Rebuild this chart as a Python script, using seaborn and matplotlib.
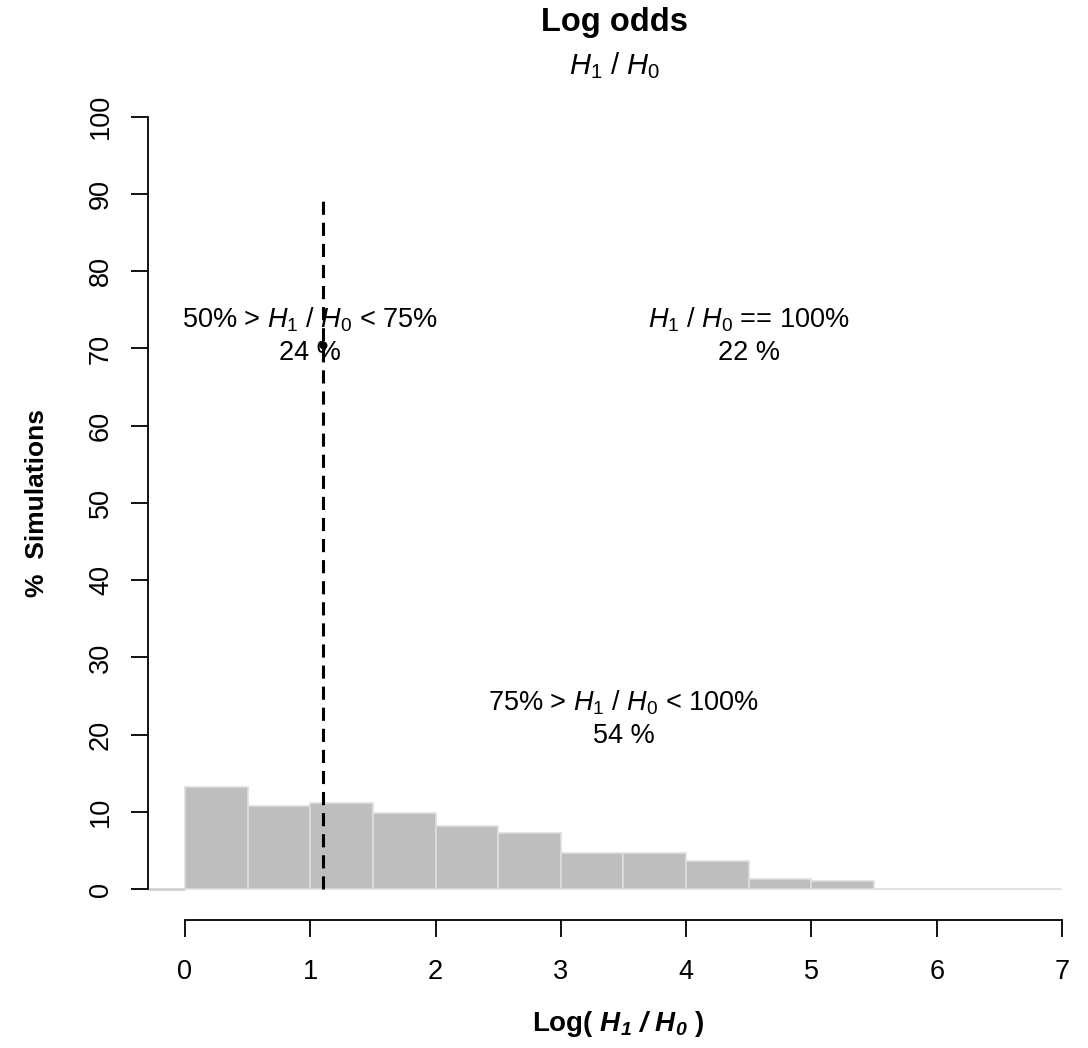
import numpy as np
import matplotlib
matplotlib.use("Agg")
import matplotlib.pyplot as plt
import seaborn as sns

# histogram of log odds (percent of simulations per 0.5-wide bin)
bin_edges = [0, 0.5, 1, 1.5, 2, 2.5, 3, 3.5, 4, 4.5, 5, 5.5, 6, 6.5, 7]
pct_sims = [13.25, 10.8, 11.1, 9.8, 8.2, 7.3, 4.7, 4.7, 3.6, 1.25, 1.0, 0, 0, 0]

cutoff = 1.1          # dashed reference line
cutoff_top = 89.2
marker_x, marker_y = 1.1, 70.5

region_labels = [r"50% > $H_1\ /\ H_0$ < 75%", r"$H_1\ /\ H_0$ == 100%", r"75% > $H_1\ /\ H_0$ < 100%"]
region_pcts = ["24 %", "22 %", "54 %"]
region_x = [1.0, 4.5, 3.5]
region_y = [73.7, 73.7, 24.1]

sns.set_style("white")
plt.rcParams["font.family"] = ["Liberation Sans", "DejaVu Sans"]
plt.rcParams["text.color"] = "black"
plt.rcParams["axes.labelcolor"] = "black"
plt.rcParams["mathtext.fontset"] = "custom"
plt.rcParams["mathtext.rm"] = "Liberation Sans"
plt.rcParams["mathtext.it"] = "Liberation Sans:italic"
plt.rcParams["mathtext.bf"] = "Liberation Sans:bold:italic"

fig = plt.figure(figsize=(10.88, 10.48), dpi=100)
ax = fig.add_axes([0.136, 0.1221, 0.864, 0.796])

centers = [(a + b) / 2 for a, b in zip(bin_edges[:-1], bin_edges[1:])]
sns.histplot(x=centers, weights=pct_sims, bins=bin_edges, ax=ax,
             color="#BEBEBE", edgecolor="#DEDEDE", linewidth=1.2, alpha=1)

xmin, xmax = -0.295, 7.207
ax.set_xlim(xmin, xmax)
ax.set_ylim(-4, 104)
ax.hlines(0, xmin, 0, color="#D3D3D3", lw=2, zorder=1)

ax.vlines(cutoff, 0, cutoff_top, color="black", lw=2.2, linestyles=(0, (4.3, 2.6)), zorder=3)
ax.scatter([marker_x], [marker_y], s=22, color="black", zorder=4)

for lab, pct, x, y in zip(region_labels, region_pcts, region_x, region_y):
    ax.text(x, y, lab, ha="center", va="center", fontsize=19.5)
    ax.text(x, y - 4.3, pct, ha="center", va="center", fontsize=19.5)

# R-like detached axes
sns.despine(ax=ax, top=True, right=True)
ax.spines["left"].set_bounds(0, 100)
ax.spines["bottom"].set_bounds(0, 7)
for s in ("left", "bottom"):
    ax.spines[s].set_linewidth(1.3)
    ax.spines[s].set_color("black")
ax.set_xticks(range(0, 8))
ax.set_yticks(range(0, 101, 10))
ax.tick_params(axis="both", direction="out", length=12, width=1.3, labelsize=19.5,
               bottom=True, left=True, colors="black")
ax.tick_params(axis="x", pad=16)
ax.tick_params(axis="y", pad=12.5)
for t in ax.get_yticklabels():
    t.set_rotation(90)
    t.set_va("center")

ax.set_xlabel(r"Log( $\mathbf{H_1\ /\ H_0}$ )", fontsize=20, fontweight="bold", labelpad=17)
ax.set_ylabel("%  Simulations", fontsize=19, fontweight="bold", labelpad=28)

fig.text(0.565, 0.979, "Log odds", ha="center", va="center", fontsize=23.5, fontweight="bold")
fig.text(0.565, 0.937, r"$H_1\ /\ H_0$", ha="center", va="center", fontsize=21)

fig.savefig("out.png", dpi=100)
